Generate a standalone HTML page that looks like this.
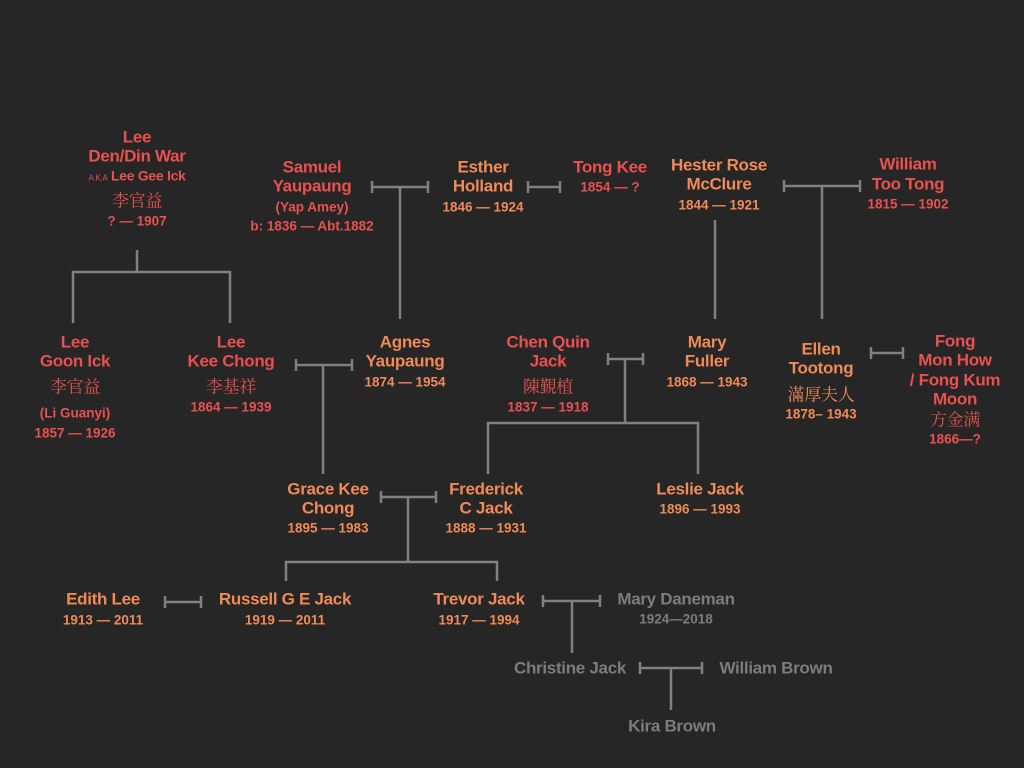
<!DOCTYPE html>
<html><head><meta charset="utf-8"><style>
body{margin:0;width:1024px;height:768px;background:#262626;position:relative;overflow:hidden;font-family:"Liberation Sans","Noto Sans CJK SC",sans-serif}
.t{position:absolute;transform:translate(-50%,-50%);white-space:nowrap;font-weight:bold;font-size:17px;line-height:19px;letter-spacing:-0.3px}
.d{font-size:13.5px;letter-spacing:0}
.c{font-weight:normal;font-size:17px;font-family:"Noto Serif CJK SC","Noto Sans CJK SC",serif}
.r{color:#e8514f}.o{color:#f08a57}.g{color:#7c7c7c}
svg{position:absolute;left:0;top:0}
</style></head><body>
<svg width="1024" height="768" stroke="#808080" stroke-width="2.5" fill="none">
<path d="M137 250V272M73 323V272H230V323"/>
<path d="M372 187H428M372 181V193M428 181V193M400 187V319"/>
<path d="M528 187H560M528 181V193M560 181V193"/>
<path d="M715 220V319"/>
<path d="M784 186H860M784 180V192M860 180V192M822 186V319"/>
<path d="M296 365H352M296 359V371M352 359V371M323 365V474"/>
<path d="M608 359H643M608 353V365M643 353V365M625 359V423M488 474V423H698V474"/>
<path d="M871 353H903M871 347V359M903 347V359"/>
<path d="M381 497H436M381 491V503M436 491V503M408 497V562M286 581V562H497V581"/>
<path d="M165 602H201M165 596V608M201 596V608"/>
<path d="M543 601H600M543 595V607M600 595V607M572 601V653"/>
<path d="M640 668H702M640 662V674M702 662V674M671 668V710"/>
</svg>
<div class="t r" style="left:137px;top:137px">Lee</div>
<div class="t r" style="left:137px;top:156px">Den/Din War</div>
<div class="t r" style="left:137px;top:177px;font-size:14px"><span style="font-size:8px;font-weight:normal">A.K.A</span> Lee Gee Ick</div>
<div class="t r c" style="left:137px;top:199px">李官益</div>
<div class="t r d" style="left:137px;top:221px">? — 1907</div>

<div class="t r" style="left:312px;top:167px">Samuel</div>
<div class="t r" style="left:312px;top:186px">Yaupaung</div>
<div class="t r d" style="left:312px;top:207px">(Yap Amey)</div>
<div class="t r d" style="left:312px;top:226px">b: 1836 — Abt.1882</div>

<div class="t o" style="left:483px;top:167px">Esther</div>
<div class="t o" style="left:483px;top:186px">Holland</div>
<div class="t o d" style="left:483px;top:207px">1846 — 1924</div>

<div class="t r" style="left:610px;top:167px">Tong Kee</div>
<div class="t r d" style="left:610px;top:187px">1854 — ?</div>

<div class="t o" style="left:719px;top:165px">Hester Rose</div>
<div class="t o" style="left:719px;top:184px">McClure</div>
<div class="t o d" style="left:719px;top:205px">1844 — 1921</div>

<div class="t r" style="left:908px;top:164px">William</div>
<div class="t r" style="left:908px;top:184px">Too Tong</div>
<div class="t r d" style="left:908px;top:204px">1815 — 1902</div>

<div class="t r" style="left:75px;top:342px">Lee</div>
<div class="t r" style="left:75px;top:361px">Goon Ick</div>
<div class="t r c" style="left:75px;top:385px">李官益</div>
<div class="t r d" style="left:75px;top:413px">(Li Guanyi)</div>
<div class="t r d" style="left:75px;top:433px">1857 — 1926</div>

<div class="t r" style="left:231px;top:342px">Lee</div>
<div class="t r" style="left:231px;top:361px">Kee Chong</div>
<div class="t r c" style="left:231px;top:385px">李基祥</div>
<div class="t r d" style="left:231px;top:407px">1864 — 1939</div>

<div class="t o" style="left:405px;top:342px">Agnes</div>
<div class="t o" style="left:405px;top:361px">Yaupaung</div>
<div class="t o d" style="left:405px;top:382px">1874 — 1954</div>

<div class="t r" style="left:548px;top:342px">Chen Quin</div>
<div class="t r" style="left:548px;top:361px">Jack</div>
<div class="t r c" style="left:548px;top:385px">陳覲植</div>
<div class="t r d" style="left:548px;top:407px">1837 — 1918</div>

<div class="t o" style="left:707px;top:342px">Mary</div>
<div class="t o" style="left:707px;top:361px">Fuller</div>
<div class="t o d" style="left:707px;top:382px">1868 — 1943</div>

<div class="t o" style="left:821px;top:349px">Ellen</div>
<div class="t o" style="left:821px;top:368px">Tootong</div>
<div class="t o c" style="left:821px;top:393px">滿厚夫人</div>
<div class="t o d" style="left:821px;top:414px">1878– 1943</div>

<div class="t r" style="left:955px;top:341px">Fong</div>
<div class="t r" style="left:955px;top:360px">Mon How</div>
<div class="t r" style="left:955px;top:380px">/ Fong Kum</div>
<div class="t r" style="left:955px;top:399px">Moon</div>
<div class="t r c" style="left:955px;top:418px">方金满</div>
<div class="t r d" style="left:955px;top:439px">1866—?</div>

<div class="t o" style="left:328px;top:489px">Grace Kee</div>
<div class="t o" style="left:328px;top:508px">Chong</div>
<div class="t o d" style="left:328px;top:528px">1895 — 1983</div>

<div class="t o" style="left:486px;top:489px">Frederick</div>
<div class="t o" style="left:486px;top:508px">C Jack</div>
<div class="t o d" style="left:486px;top:528px">1888 — 1931</div>

<div class="t o" style="left:700px;top:489px">Leslie Jack</div>
<div class="t o d" style="left:700px;top:509px">1896 — 1993</div>

<div class="t o" style="left:103px;top:599px">Edith Lee</div>
<div class="t o d" style="left:103px;top:620px">1913 — 2011</div>

<div class="t o" style="left:285px;top:599px">Russell G E Jack</div>
<div class="t o d" style="left:285px;top:620px">1919 — 2011</div>

<div class="t o" style="left:479px;top:599px">Trevor Jack</div>
<div class="t o d" style="left:479px;top:620px">1917 — 1994</div>

<div class="t g" style="left:676px;top:599px">Mary Daneman</div>
<div class="t g d" style="left:676px;top:619px">1924—2018</div>

<div class="t g" style="left:570px;top:668px">Christine Jack</div>
<div class="t g" style="left:776px;top:668px">William Brown</div>
<div class="t g" style="left:672px;top:726px">Kira Brown</div>
</body></html>
